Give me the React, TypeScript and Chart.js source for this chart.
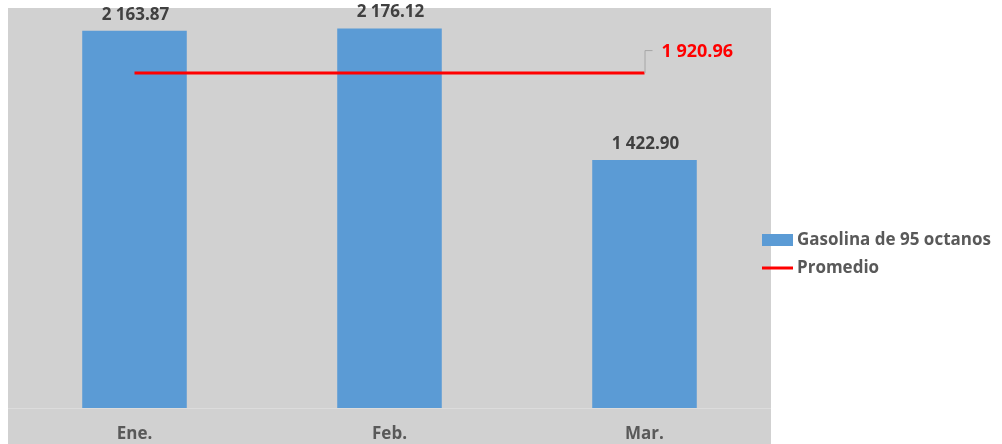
import React, { useEffect, useRef } from 'react';
import { Chart, registerables } from 'chart.js';

Chart.register(...registerables);

const categories = ['Ene.', 'Feb.', 'Mar.'];
const gasolina95 = [2163.87, 2176.12, 1422.9];
const promedio = [1920.96, 1920.96, 1920.96];
const seriesNames = ['Gasolina de 95 octanos', 'Promedio'];
const yMax = 2300;

const BLUE = '#5B9BD5';
const RED = '#FF0000';
const FONT = '"Open Sans", sans-serif';

const fmt = (v: number) => {
  const [i, d] = v.toFixed(2).split('.');
  return i.replace(/\B(?=(\d{3})+(?!\d))/g, ' ') + '.' + d;
};

const decorPlugin = {
  id: 'decor',
  beforeDraw(chart: any) {
    const ctx = chart.ctx;
    ctx.save();
    ctx.fillStyle = '#d1d1d1';
    ctx.fillRect(8, 8, 763, 436);
    ctx.fillStyle = '#dcdcdc';
    ctx.fillRect(8, chart.chartArea.bottom, 763, 1);
    ctx.restore();
  },
  afterDatasetsDraw(chart: any) {
    const ctx = chart.ctx;
    ctx.save();
    // bar value labels
    const meta0 = chart.getDatasetMeta(0);
    ctx.font = `bold 17px ${FONT}`;
    ctx.fillStyle = '#404040';
    ctx.textAlign = 'center';
    ctx.textBaseline = 'middle';
    meta0.data.forEach((el: any, i: number) => {
      ctx.fillText(fmt(chart.data.datasets[0].data[i]), el.x + 1, el.y - 16);
    });
    // average label with leader line
    const meta1 = chart.getDatasetMeta(1);
    const last = meta1.data[meta1.data.length - 1];
    const val = chart.data.datasets[1].data[meta1.data.length - 1];
    ctx.strokeStyle = '#a6a6a6';
    ctx.lineWidth = 1;
    ctx.beginPath();
    ctx.moveTo(last.x + 0.5, last.y);
    ctx.lineTo(last.x + 0.5, last.y - 22.5);
    ctx.lineTo(last.x + 8, last.y - 22.5);
    ctx.stroke();
    ctx.fillStyle = RED;
    ctx.textAlign = 'left';
    ctx.font = `bold 18px ${FONT}`;
    ctx.fillText(fmt(val), last.x + 17, last.y - 21);
    ctx.restore();
  },
  afterDraw(chart: any) {
    const ctx = chart.ctx;
    const ds = chart.data.datasets;
    ctx.save();
    ctx.fillStyle = ds[0].backgroundColor;
    ctx.fillRect(762, 234, 31, 12);
    ctx.strokeStyle = ds[1].borderColor;
    ctx.lineWidth = 3;
    ctx.beginPath();
    ctx.moveTo(762, 268);
    ctx.lineTo(793, 268);
    ctx.stroke();
    ctx.font = `bold 17px ${FONT}`;
    ctx.fillStyle = '#595959';
    ctx.textAlign = 'left';
    ctx.textBaseline = 'middle';
    ctx.fillText(ds[0].label, 797, 240);
    ctx.fillText(ds[1].label, 797, 268);
    ctx.restore();
  },
};

export default function App() {
  const ref = useRef<HTMLCanvasElement>(null);
  useEffect(() => {
    document.body.style.margin = '0';
    const chart = new Chart(ref.current!, {
      type: 'bar',
      data: {
        labels: categories,
        datasets: [
          {
            type: 'bar',
            label: seriesNames[0],
            data: gasolina95,
            backgroundColor: BLUE,
            borderWidth: 0,
            barPercentage: 0.41,
            categoryPercentage: 1,
            order: 1,
          },
          {
            type: 'line',
            label: seriesNames[1],
            data: promedio,
            borderColor: RED,
            backgroundColor: RED,
            borderWidth: 3,
            pointRadius: 0,
            fill: false,
            order: 0,
          },
        ] as any,
      },
      options: {
        animation: false,
        responsive: false,
        layout: { padding: { left: 7, right: 230, top: 7, bottom: 0 } },
        plugins: { legend: { display: false }, tooltip: { enabled: false } },
        scales: {
          x: {
            grid: { display: false, drawTicks: false },
            border: { display: false },
            ticks: {
              color: '#595959',
              font: { family: FONT, size: 17, weight: 'bold' },
              padding: 16,
            },
            afterFit: (scale: any) => {
              scale.height = 36;
            },
          },
          y: { display: false, min: 0, max: yMax },
        },
      },
      plugins: [decorPlugin],
    });
    return () => chart.destroy();
  }, []);
  return (
    <div style={{ width: 1002, height: 444 }}>
      <canvas ref={ref} width={1002} height={444} style={{ display: 'block' }} />
    </div>
  );
}
